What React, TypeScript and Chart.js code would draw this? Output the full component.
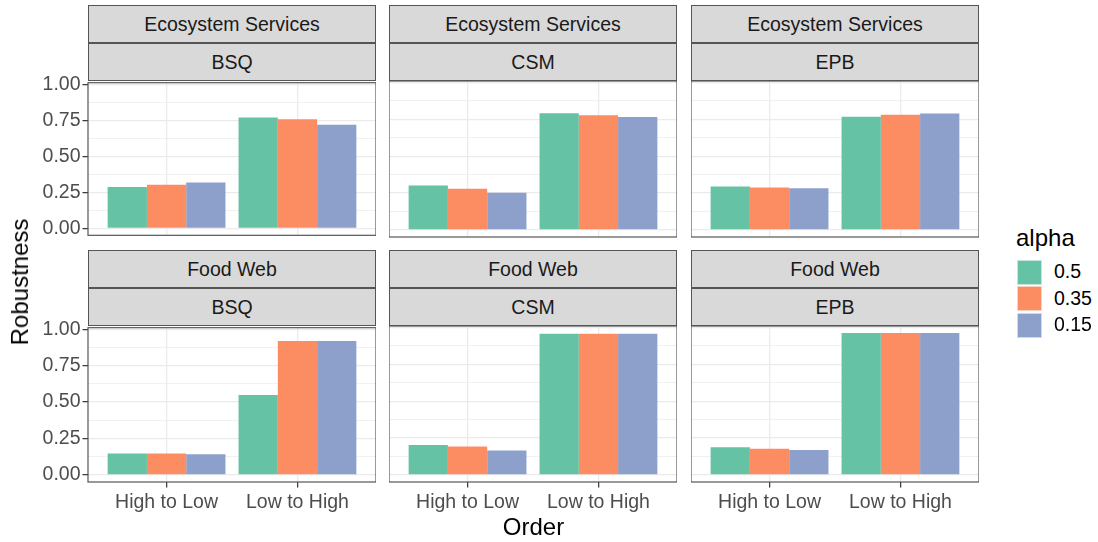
import React, { useEffect, useRef } from "react";
import { Chart, registerables } from "chart.js";

Chart.register(...registerables);

// ---------- data ----------
const ORDER = ["High to Low", "Low to High"];
const ALPHA_LEVELS = ["0.5", "0.35", "0.15"];
const ALPHA_COLORS = ["#66C2A5", "#FC8D62", "#8DA0CB"];
const NETWORKS = ["Ecosystem Services", "Food Web"];
const SITES = ["BSQ", "CSM", "EPB"];
const Y_MAJOR = [0, 0.25, 0.5, 0.75, 1.0];
const Y_MINOR = [0.125, 0.375, 0.625, 0.875];

// each row = one alpha series: [High to Low, Low to High]
const ES_BSQ = [[0.287, 0.768], [0.302, 0.757], [0.318, 0.718]];
const ES_CSM = [[0.302, 0.791], [0.280, 0.778], [0.252, 0.766]];
const ES_EPB = [[0.295, 0.768], [0.287, 0.782], [0.282, 0.789]];
const FW_BSQ = [[0.147, 0.548], [0.147, 0.919], [0.143, 0.919]];
const FW_CSM = [[0.203, 0.957], [0.192, 0.957], [0.165, 0.957]];
const FW_EPB = [[0.187, 0.962], [0.178, 0.962], [0.169, 0.962]];

const PANEL_VALUES = [
  [ES_BSQ, ES_CSM, ES_EPB],
  [FW_BSQ, FW_CSM, FW_EPB],
];

const DATA_MAX = Math.max(...PANEL_VALUES.flat(3));
const Y_MIN = -0.05 * DATA_MAX;
const Y_MAX = 1.05 * DATA_MAX;
const X_MIN = 1 - 0.6;
const X_MAX = ORDER.length + 0.6;

// ---------- layout / style ----------
const FONT = "'Liberation Sans', Arial, Helvetica, sans-serif";
const TXT = 19.5;
const TITLE = 24;
const COL_LEFT = [88, 389, 691];
const PANEL_W = 288;
const PANEL_TOP = [81, 326];
const PANEL_H = 156;
const STRIP_H = 38;
const PAD = 12;
const X_AXIS_H = 36;
const GRID = "#EBEBEB";
const TICK_COLOR = "#333333";
const BORDER = "#555555";

const panelBorder = {
  id: "panelBorder",
  afterDatasetsDraw(chart: any) {
    const { ctx, chartArea } = chart;
    ctx.save();
    ctx.strokeStyle = BORDER;
    ctx.lineWidth = 1.2;
    ctx.strokeRect(chartArea.left, chartArea.top, chartArea.right - chartArea.left, chartArea.bottom - chartArea.top);
    ctx.restore();
  },
};

function Panel({ r, c }: { r: number; c: number }) {
  const ref = useRef<HTMLCanvasElement>(null);
  const canvasLeft = c === 0 ? 0 : COL_LEFT[c];
  const yAxisW = COL_LEFT[c] - canvasLeft;
  const canvasTop = PANEL_TOP[r] - PAD;
  const xAxisH = r === 1 ? X_AXIS_H : 0;
  const w = yAxisW + PANEL_W;
  const h = PAD + PANEL_H + (r === 1 ? X_AXIS_H : PAD);

  useEffect(() => {
    const values = PANEL_VALUES[r][c];
    const tickFont = { family: FONT, size: TXT };
    const chart = new Chart(ref.current as HTMLCanvasElement, {
      type: "bar",
      data: {
        datasets: ALPHA_LEVELS.map((a, i) => ({
          label: a,
          data: ORDER.map((_, j) => ({ x: j + 1, y: values[i][j] })),
          backgroundColor: ALPHA_COLORS[i],
          borderWidth: 0,
          categoryPercentage: 0.9,
          barPercentage: 1,
        })),
      } as any,
      options: {
        responsive: false,
        animation: false,
        events: [],
        layout: { padding: { top: PAD, bottom: r === 1 ? 0 : PAD, left: 0, right: 0 } },
        plugins: { legend: { display: false }, tooltip: { enabled: false } },
        scales: {
          x: {
            type: "linear",
            min: X_MIN,
            max: X_MAX,
            offset: false,
            afterBuildTicks: (s: any) => {
              s.ticks = ORDER.map((_, j) => ({ value: j + 1 }));
            },
            afterFit: (s: any) => {
              s.height = xAxisH;
            },
            ticks: {
              display: r === 1,
              autoSkip: false,
              maxRotation: 0,
              padding: 3,
              font: tickFont,
              color: "#4D4D4D",
              callback: (v: any) => ORDER[Math.round(Number(v)) - 1] ?? "",
            },
            grid: {
              offset: false,
              color: GRID,
              lineWidth: 1.3,
              drawTicks: r === 1,
              tickLength: 5.5,
              tickColor: TICK_COLOR,
              tickWidth: 1.2,
            },
            border: { display: false },
          },
          y: {
            type: "linear",
            min: Y_MIN,
            max: Y_MAX,
            afterBuildTicks: (s: any) => {
              s.ticks = [...Y_MAJOR, ...Y_MINOR].sort((a, b) => a - b).map((v) => ({ value: v }));
            },
            afterFit: (s: any) => {
              s.width = yAxisW;
            },
            ticks: {
              display: c === 0,
              autoSkip: false,
              padding: 2,
              font: tickFont,
              color: "#4D4D4D",
              callback: (v: any) => (Y_MAJOR.includes(Number(v)) ? Number(v).toFixed(2) : ""),
            },
            grid: {
              color: GRID,
              lineWidth: (ctx: any) => (ctx.tick && Y_MAJOR.includes(ctx.tick.value) ? 1.3 : 0.7),
              drawTicks: c === 0,
              tickLength: 5.5,
              tickColor: (ctx: any) => (ctx.tick && Y_MAJOR.includes(ctx.tick.value) ? TICK_COLOR : "rgba(0,0,0,0)"),
              tickWidth: 1.2,
            },
            border: { display: false },
          },
        },
      } as any,
      plugins: [panelBorder],
    });
    return () => chart.destroy();
  }, []);

  return (
    <canvas
      ref={ref}
      width={w}
      height={h}
      style={{ position: "absolute", left: canvasLeft, top: canvasTop, width: w, height: h }}
    />
  );
}

function Strip({ left, top, text }: { left: number; top: number; text: string }) {
  return (
    <div
      style={{
        position: "absolute",
        left,
        top,
        width: PANEL_W,
        height: STRIP_H,
        boxSizing: "border-box",
        border: `1.2px solid ${BORDER}`,
        background: "#D9D9D9",
        color: "#1A1A1A",
        fontSize: TXT,
        display: "flex",
        alignItems: "center",
        justifyContent: "center",
        whiteSpace: "nowrap",
      }}
    >
      {text}
    </div>
  );
}

export default function App() {
  const panels: any[] = [];
  const strips: any[] = [];
  for (let r = 0; r < NETWORKS.length; r++) {
    for (let c = 0; c < SITES.length; c++) {
      panels.push(<Panel key={`p${r}${c}`} r={r} c={c} />);
      const st = PANEL_TOP[r] - 2 * STRIP_H;
      strips.push(<Strip key={`s1${r}${c}`} left={COL_LEFT[c]} top={st} text={NETWORKS[r]} />);
      strips.push(<Strip key={`s2${r}${c}`} left={COL_LEFT[c]} top={st + STRIP_H} text={SITES[c]} />);
    }
  }
  const panelsMidY = (PANEL_TOP[0] + PANEL_TOP[1] + PANEL_H) / 2;
  const panelsMidX = (COL_LEFT[0] + COL_LEFT[2] + PANEL_W) / 2;

  return (
    <div
      style={{
        position: "fixed",
        left: 0,
        top: 0,
        width: 1098,
        height: 542,
        background: "#FFFFFF",
        fontFamily: FONT,
        overflow: "hidden",
      }}
    >
      {panels}
      {strips}
      <div
        style={{
          position: "absolute",
          left: 20,
          top: panelsMidY,
          transform: "translate(-50%, -50%) rotate(-90deg)",
          fontSize: TITLE,
          lineHeight: 1,
          whiteSpace: "nowrap",
          color: "#000",
        }}
      >
        Robustness
      </div>
      <div
        style={{
          position: "absolute",
          left: panelsMidX,
          top: 527,
          transform: "translate(-50%, -50%)",
          fontSize: TITLE,
          lineHeight: 1,
          whiteSpace: "nowrap",
          color: "#000",
        }}
      >
        Order
      </div>
      <div
        style={{
          position: "absolute",
          left: 1016,
          top: 238,
          transform: "translateY(-50%)",
          fontSize: TITLE,
          lineHeight: 1,
          whiteSpace: "nowrap",
          color: "#000",
        }}
      >
        alpha
      </div>
      {ALPHA_LEVELS.map((a, i) => (
        <React.Fragment key={a}>
          <div
            style={{
              position: "absolute",
              left: 1017,
              top: 259.5 + i * 26.5,
              width: 25,
              height: 25,
              boxSizing: "border-box",
              background: ALPHA_COLORS[i],
              border: "1px solid rgba(255,255,255,0.6)",
            }}
          />
          <div
            style={{
              position: "absolute",
              left: 1054,
              top: 259.5 + i * 26.5 + 12.5,
              transform: "translateY(-50%)",
              fontSize: TXT,
              lineHeight: 1,
              whiteSpace: "nowrap",
              color: "#000",
            }}
          >
            {a}
          </div>
        </React.Fragment>
      ))}
    </div>
  );
}
